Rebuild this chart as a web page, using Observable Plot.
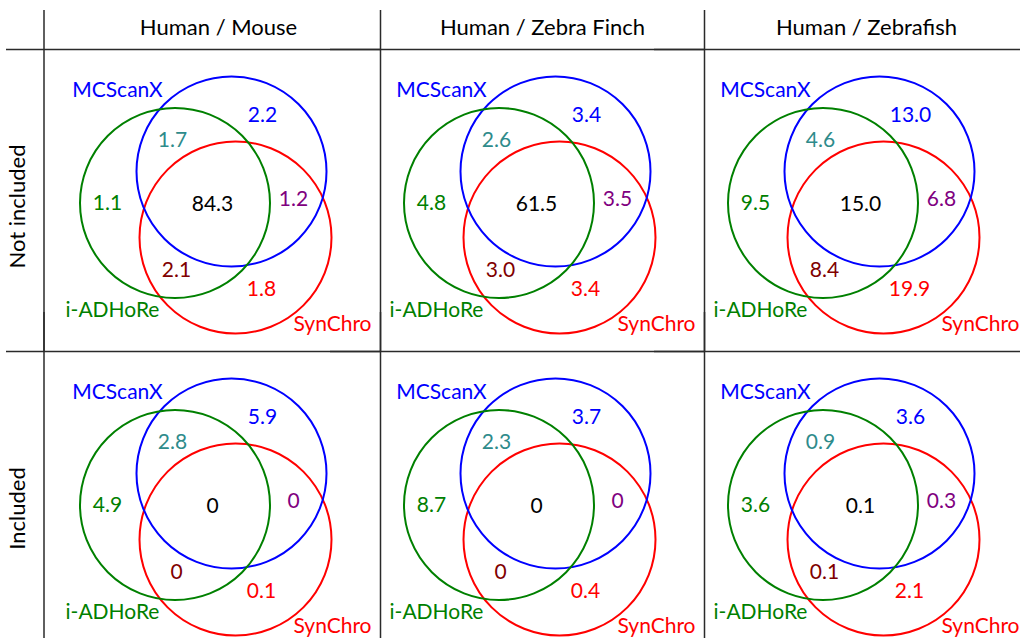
<!DOCTYPE html>
<html>
<head>
<meta charset="utf-8">
<script src="https://cdn.jsdelivr.net/npm/d3@7"></script>
<script src="https://cdn.jsdelivr.net/npm/@observablehq/plot@0.6"></script>
<style>
  html, body { margin: 0; padding: 0; background: #fff; }
</style>
</head>
<body>
<div id="chart"></div>
<script>
// ---------- data ----------
const comparisons = ["Human / Mouse", "Human / Zebra Finch", "Human / Zebrafish"];
const conditions = ["Not included", "Included"];
const tools = ["MCScanX", "i-ADHoRe", "SynChro"];
const toolColors = ["#0000ff", "#008000", "#ff0000"];
const regions = ["MCScanX only", "MCScanX & i-ADHoRe", "i-ADHoRe only", "All three",
                 "MCScanX & SynChro", "i-ADHoRe & SynChro", "SynChro only"];
const regionColors = ["#0000ff", "#2e8b8b", "#008000", "#000000", "#800080", "#800000", "#ff0000"];

// percentages per region (order as in `regions`)
const mouseNotIncluded = [2.2, 1.7, 1.1, 84.3, 1.2, 2.1, 1.8];
const finchNotIncluded = [3.4, 2.6, 4.8, 61.5, 3.5, 3.0, 3.4];
const fishNotIncluded  = [13.0, 4.6, 9.5, 15.0, 6.8, 8.4, 19.9];
const mouseIncluded    = [5.9, 2.8, 4.9, 0, 0, 0, 0.1];
const finchIncluded    = [3.7, 2.3, 8.7, 0, 0, 0, 0.4];
const fishIncluded     = [3.6, 0.9, 3.6, 0.1, 0.3, 0.1, 2.1];

// ---------- Venn layout (panel-local units) ----------
const circleCx = [175, 118.5, 179];
const circleCy = [122, 153.5, 188];
const circleR  = [95, 95, 96];
const toolLabelX = [61, 56, 276];
const toolLabelY = [41, 261, 275];
const regionX = [206, 116, 51, 156, 237, 120, 205];
const regionY = [66, 91, 154, 155, 150, 221, 240];

// ---------- build tables ----------
const panelValues = [
  [mouseNotIncluded, finchNotIncluded, fishNotIncluded],
  [mouseIncluded, finchIncluded, fishIncluded]
];
const panels = [], cells = [], circles = [], toolTexts = [];
conditions.forEach((condition, i) => comparisons.forEach((comparison, j) => {
  panels.push({comparison, condition});
  regions.forEach((region, k) => cells.push({
    comparison, condition, region, value: panelValues[i][j][k],
    x: regionX[k], y: regionY[k], color: regionColors[k]
  }));
  tools.forEach((tool, k) => {
    circles.push({comparison, condition, tool, x: circleCx[k], y: circleCy[k], r: circleR[k], color: toolColors[k]});
    toolTexts.push({comparison, condition, tool, x: toolLabelX[k], y: toolLabelY[k], color: toolColors[k]});
  });
}));
const firstColumn = conditions.map(condition => ({comparison: comparisons[0], condition}));
const fmt = v => v === 0 ? "0" : v.toFixed(1);

const FONT = "Lato";
const FS = 21;
const HFS = 22;
const LINE = "#2a2a2a";

const chart = Plot.plot({
  width: 1020,
  height: 638,
  marginLeft: 56,
  marginRight: 0,
  marginTop: 49,
  marginBottom: 0,
  facet: {marginTop: 0, marginRight: 0, marginBottom: 0, marginLeft: 0},
  style: {fontFamily: FONT, fontSize: FS + "px", background: "#fff", color: "#000"},
  fx: {domain: comparisons, padding: 0, range: [56, 1028]},
  fy: {domain: conditions, padding: 0, range: [49, 653]},
  x: {domain: [0, 324], axis: null},
  y: {domain: [0, 302], reverse: true, axis: null},
  r: {type: "identity"},
  marks: [
    // table rules
    Plot.ruleX(panels, {fx: "comparison", fy: "condition", x: 324, y1: -39, y2: 302, stroke: LINE, strokeWidth: 1.5}),
    Plot.ruleX(firstColumn, {fx: "comparison", fy: "condition", x: -12.5, y1: -39, y2: 302, stroke: LINE, strokeWidth: 1.5}),
    Plot.ruleY(panels, {fx: "comparison", fy: "condition", y: 0, x1: -50, x2: 324, stroke: LINE, strokeWidth: 1.5}),
    // circles
    Plot.dot(circles, {fx: "comparison", fy: "condition", x: "x", y: "y", r: "r", stroke: "color", fill: "none", strokeWidth: 2}),
    // set labels
    Plot.text(toolTexts, {fx: "comparison", fy: "condition", x: "x", y: "y", text: "tool", fill: "color", fontSize: FS, fontFamily: FONT}),
    // region values
    Plot.text(cells, {fx: "comparison", fy: "condition", x: "x", y: "y", text: d => fmt(d.value), fill: "color", fontSize: FS, fontFamily: FONT}),
    // headers
    Plot.axisFx({anchor: "top", tickSize: 0, tickPadding: 15, label: null, fontSize: HFS, fontFamily: FONT}),
    Plot.axisFy({anchor: "left", tickSize: 0, tickPadding: 32, tickRotate: -90, label: null, fontSize: HFS, fontFamily: FONT, dy: 6})
  ]
});
document.getElementById("chart").appendChild(chart);
</script>
</body>
</html>
